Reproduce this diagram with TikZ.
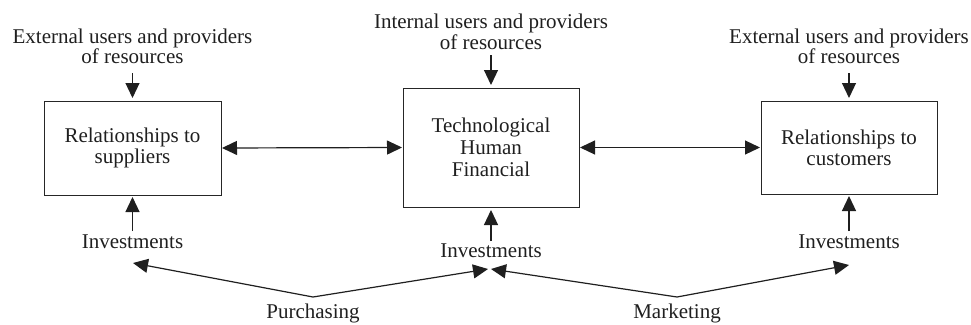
\documentclass[tikz,border=0pt]{standalone}
\usepackage{fontspec}
\setmainfont{Liberation Serif}
\usetikzlibrary{arrows.meta}
\begin{document}
\begin{tikzpicture}[x=1pt,y=-1pt,
  every node/.style={inner sep=0pt, outer sep=0pt, font=\fontsize{21}{20.7}\selectfont, text=black!88},
  lbl/.style={align=center},
  boxnode/.style={draw=black!85, line width=1pt, align=center},
  arr/.style={draw=black!88, line width=1.2pt, -{Triangle[length=15pt,width=14pt]}},
  darr/.style={draw=black!88, line width=1.2pt, {Triangle[length=15pt,width=14pt]}-{Triangle[length=15pt,width=14pt]}}
]
\useasboundingbox (0,0) rectangle (971,324);

% boxes
\node[boxnode, minimum width=177pt, minimum height=94pt] (boxL) at (132.5,148) {Relationships to\\suppliers};
\node[boxnode, minimum width=176pt, minimum height=119pt, font=\fontsize{21}{21.7}\selectfont] (boxM) at (491,147.5) {Technological\\Human\\Financial};
\node[boxnode, minimum width=176pt, minimum height=93pt] (boxR) at (849,147.5) {Relationships to\\customers};

% top labels
\node[lbl] (topL) at (132.5,46.4) {External users and providers\\of resources};
\node[lbl] (topM) at (491,32) {Internal users and providers\\of resources};
\node[lbl] (topR) at (849,46.4) {External users and providers\\of resources};

% investment labels
\node (invL) at (132.5,242) {Investments};
\node (invM) at (491,251) {Investments};
\node (invR) at (849,242) {Investments};

% bottom labels
\node (purch) at (313,313) {Purchasing};
\node (mark) at (677,313) {Marketing};

% top arrows
\draw[arr] ([yshift=-9pt]topL.south) -- ([yshift=3pt]boxL.north);
\draw[arr] ([yshift=-5.5pt]topM.south) -- ([yshift=3pt]boxM.north);
\draw[arr] ([yshift=-9pt]topR.south) -- ([yshift=3pt]boxR.north);

% bottom arrows
\draw[arr] ([yshift=4pt]invL.north) -- ([yshift=-2pt]boxL.south);
\draw[arr] ([yshift=3pt]invM.north) -- ([yshift=-3pt]boxM.south);
\draw[arr] ([yshift=4pt]invR.north) -- ([yshift=-2pt]boxR.south);

% horizontal double arrows
\draw[darr, shorten <=1pt, shorten >=1pt] (boxL.east) -- (boxM.west);
\draw[darr, shorten <=1pt, shorten >=1pt] (boxM.east) -- (boxR.west);

% V arrows
\coordinate (pA) at (313,297);
\coordinate (pL) at (133,263);
\coordinate (pR) at (488,269);
\coordinate (mA) at (677,297);
\coordinate (mL) at (491,269);
\coordinate (mR) at (849,265);
\draw[arr] (pA) -- (pL);
\draw[arr] (pA) -- (pR);
\draw[arr] (mA) -- (mL);
\draw[arr] (mA) -- (mR);
\end{tikzpicture}
\end{document}
